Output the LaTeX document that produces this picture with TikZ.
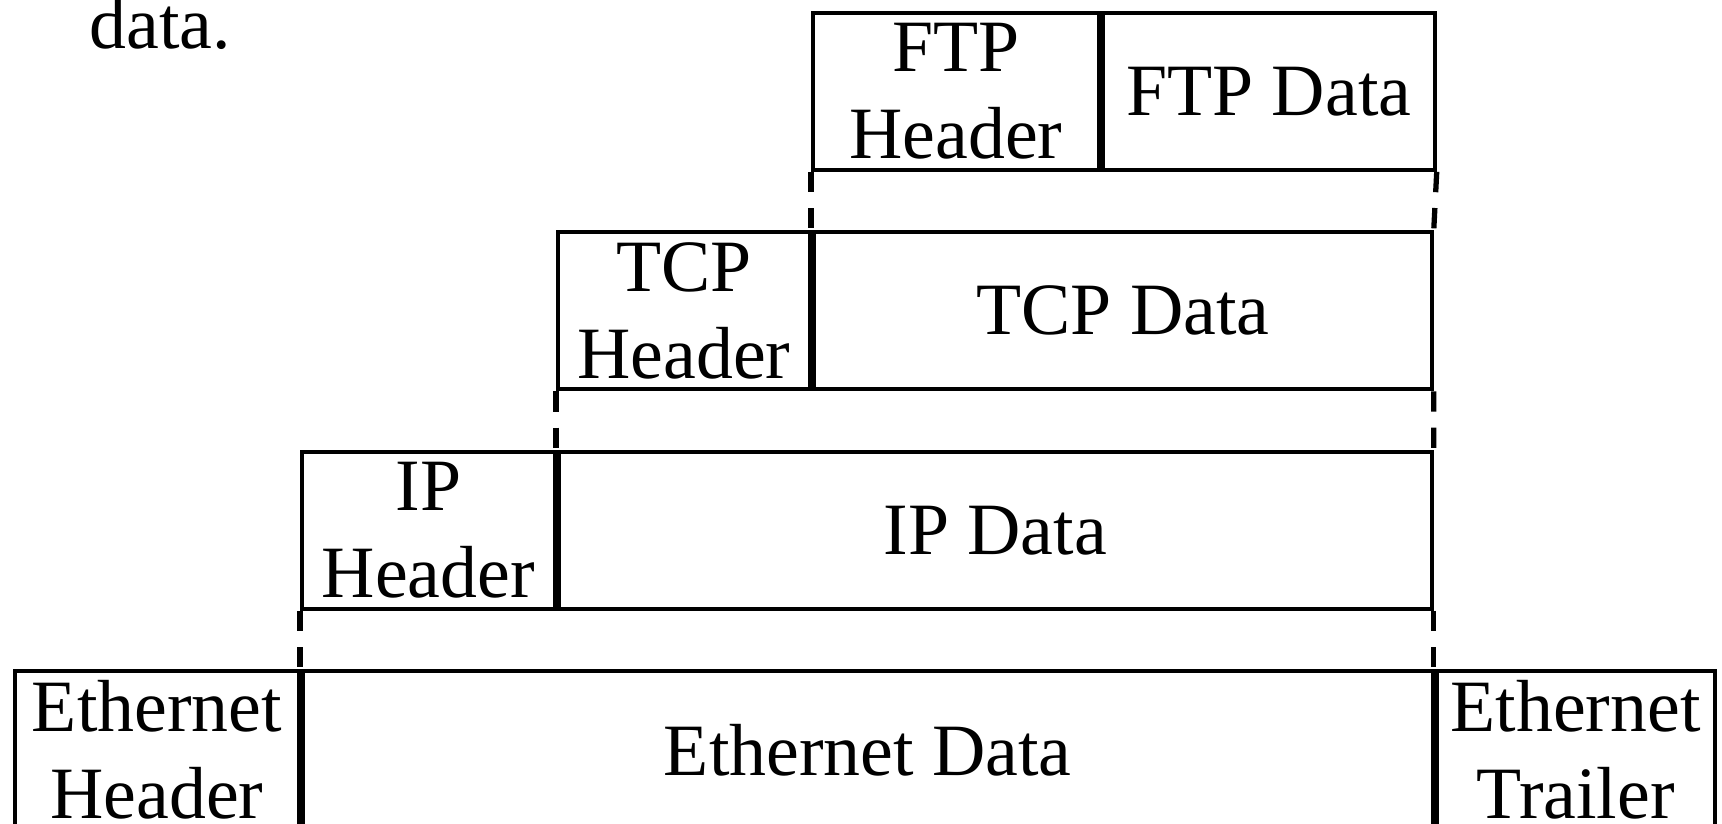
\documentclass[tikz,border=0pt]{standalone}
\usepackage{fontspec}
\setmainfont{Liberation Serif}
\usetikzlibrary{positioning}

\begin{document}
\begin{tikzpicture}[box/.style={draw,line width=1.1pt,inner sep=0pt,minimum height=1.57cm,align=center,font=\fontsize{21}{24.6}\selectfont},
  hdrbox/.style={box,anchor=north west},
  gapline/.style={line width=1.5pt,dash pattern=on 5.8pt off 4.5pt}]
\useasboundingbox (0,0) rectangle (17.22,8.24);
\node[anchor=base west,inner sep=0pt,font=\fontsize{21}{24.6}\selectfont] (txt) at (0.89,7.757) {data.};
% FTP
\node[hdrbox,minimum width=2.86cm] (ftph) at (8.11,8.13) {FTP\\Header};
\node[box,minimum width=3.32cm,right=0pt of ftph] (ftpd) {FTP Data};
% TCP
\node[hdrbox,minimum width=2.52cm] (tcph) at (5.56,5.935) {TCP\\Header};
\node[box,minimum width=6.18cm,right=0pt of tcph] (tcpd) {TCP Data};
% IP
\node[hdrbox,minimum width=2.53cm] (iph) at (3.00,3.74) {IP\\Header};
\node[box,minimum width=8.73cm,right=0pt of iph] (ipd) {IP Data};
% Ethernet
\node[hdrbox,minimum width=2.84cm] (ethh) at (0.13,1.545) {Ethernet\\Header};
\node[box,minimum width=11.30cm,right=0pt of ethh] (ethd) {Ethernet Data};
\node[box,minimum width=2.78cm,right=0pt of ethd] (etht) {Ethernet\\Trailer};
% dashed guides
\draw[gapline] (ftph.south west) -- (ftph.south west |- tcpd.north);
\draw[gapline] (ftpd.south east) -- (tcpd.north east);
\draw[gapline] (tcph.south west) -- (tcph.south west |- ipd.north);
\draw[gapline] (tcpd.south east) -- (ipd.north east);
\draw[gapline] (iph.south west) -- (iph.south west |- ethd.north);
\draw[gapline] (ipd.south east) -- (ipd.south east |- ethd.north);
\end{tikzpicture}
\end{document}
